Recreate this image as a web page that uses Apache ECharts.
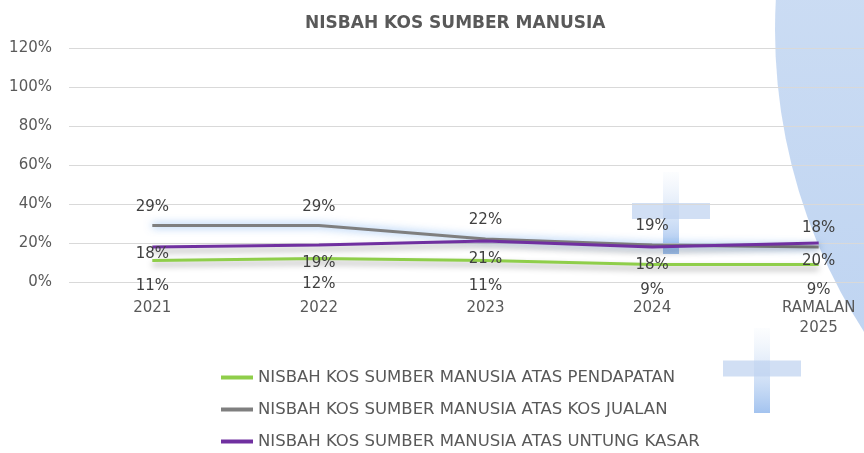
<!DOCTYPE html>
<html>
<head>
<meta charset="utf-8">
<script src="https://cdn.jsdelivr.net/npm/echarts@6/dist/echarts.min.js"></script>
<style>
  html, body { margin: 0; padding: 0; background: #fff; }
  #chart { width: 864px; height: 453px; }
</style>
</head>
<body>
<div id="chart"></div>
<script>
// data
const tahun = ['2021', '2022', '2023', '2024', 'RAMALAN\n2025'];
const atasPendapatan = [11, 12, 11, 9, 9];
const atasKosJualan = [29, 29, 22, 19, 18];
const atasUntungKasar = [18, 19, 21, 18, 20];
const namaSiri = [
  'NISBAH KOS SUMBER MANUSIA ATAS PENDAPATAN',
  'NISBAH KOS SUMBER MANUSIA ATAS KOS JUALAN',
  'NISBAH KOS SUMBER MANUSIA ATAS UNTUNG KASAR'
];

const fontUtama = 'DejaVu Sans';
const warnaTeks = '#595959';

let myChart = echarts.init(document.getElementById('chart'));

// bar silang (hiasan)
function silang(x, y, w, h, t) {
  const grad = new echarts.graphic.LinearGradient(0, 0, 0, 1, [
    { offset: 0, color: 'rgba(200,218,243,0.05)' },
    { offset: 1, color: 'rgba(140,180,235,0.8)' }
  ]);
  return {
    type: 'group', left: x, top: y, z: -1, silent: true,
    children: [
      { type: 'rect', shape: { x: (w - t) / 2, y: 0, width: t, height: h }, style: { fill: grad } },
      { type: 'rect', shape: { x: 0, y: (h - t) / 2 - 2, width: w, height: t },
        style: { fill: 'rgba(190,210,240,0.7)' } }
    ]
  };
}

// label tanpa simbol
function labelSiri(pos, jarak) {
  return {
    show: true, position: pos, distance: jarak, formatter: '{c}%',
    fontFamily: fontUtama, fontSize: 15, color: '#404040'
  };
}

// label 2021 untuk untung kasar lebih rapat ke garis
let dataUntung = atasUntungKasar.map((v, i) => i === 0 ? { value: v, label: { distance: 0 } } : v);

let option = {
  backgroundColor: '#fff',
  graphic: [
    {
      type: 'circle', z: -2, silent: true,
      shape: { cx: 1331, cy: 30, r: 556 },
      style: {
        fill: new echarts.graphic.LinearGradient(0, 0, 0, 1, [
          { offset: 0, color: '#dce7f6' },
          { offset: 1, color: '#b7cff0' }
        ])
      }
    },
    silang(632, 172, 78, 82, 16),
    silang(723, 328, 78, 85, 16)
  ],
  title: {
    text: 'NISBAH KOS SUMBER MANUSIA',
    left: 300,
    top: 10,
    textStyle: { fontFamily: fontUtama, fontSize: 17, fontWeight: 'bold', color: warnaTeks }
  },
  legend: {
    orient: 'vertical',
    left: 221,
    top: 369,
    padding: 0,
    itemGap: 15,
    itemWidth: 32,
    itemHeight: 4,
    icon: 'rect',
    data: namaSiri,
    textStyle: { fontFamily: fontUtama, fontSize: 16.5, color: warnaTeks }
  },
  grid: { left: 69, top: 48, right: -38, bottom: 171, outerBoundsMode: 'none' },
  xAxis: {
    type: 'category',
    data: tahun,
    boundaryGap: true,
    axisLine: { show: false },
    axisTick: { show: false },
    axisLabel: { fontFamily: fontUtama, fontSize: 15, color: warnaTeks, margin: 16, lineHeight: 20 }
  },
  yAxis: {
    type: 'value',
    min: 0, max: 120, interval: 20,
    axisLabel: { formatter: '{value}%', fontFamily: fontUtama, fontSize: 15, color: warnaTeks, margin: 17 },
    splitLine: { lineStyle: { color: '#d9d9d9', width: 1 } }
  },
  series: [
    {
      name: namaSiri[0], type: 'line', data: atasPendapatan,
      symbol: 'circle', symbolSize: 0, color: '#8fce4a',
      lineStyle: { width: 3, shadowColor: 'rgba(0,0,0,0.35)', shadowBlur: 6, shadowOffsetY: 4 },
      label: labelSiri('bottom', 18)
    },
    {
      name: namaSiri[1], type: 'line', data: atasKosJualan,
      symbol: 'circle', symbolSize: 0, color: '#7f7f7f',
      lineStyle: { width: 3, shadowColor: 'rgba(80,150,235,0.8)', shadowBlur: 8 },
      label: labelSiri('top', 11)
    },
    {
      name: namaSiri[2], type: 'line', data: dataUntung,
      symbol: 'circle', symbolSize: 0, color: '#7030a0',
      lineStyle: { width: 3, shadowColor: 'rgba(0,0,0,0.35)', shadowBlur: 6, shadowOffsetY: 4 },
      label: labelSiri('bottom', 11)
    }
  ]
};
myChart.setOption(option);
</script>
</body>
</html>
